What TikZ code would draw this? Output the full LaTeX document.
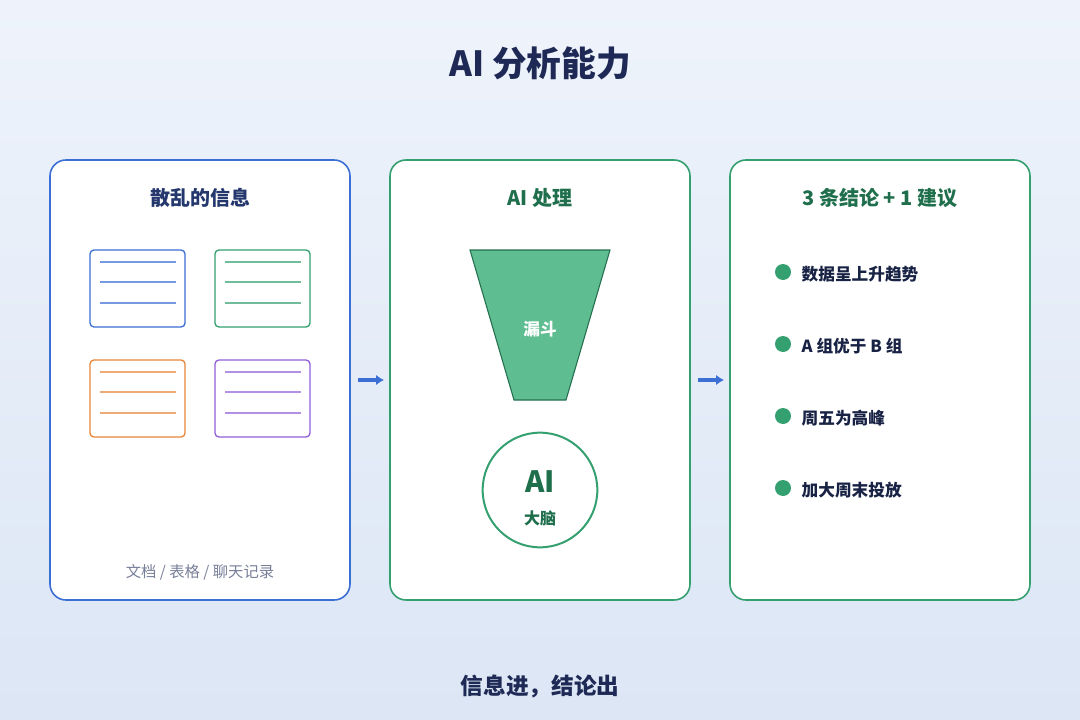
\documentclass[tikz,border=0pt]{standalone}
\usepackage{fontspec}
\setmainfont{Noto Sans CJK SC}
\usetikzlibrary{arrows.meta,positioning}
\definecolor{navy}{HTML}{1E2A55}
\definecolor{cblue}{HTML}{3B6FD4}
\definecolor{cgreen}{HTML}{34A070}
\definecolor{corange}{HTML}{E8873A}
\definecolor{cpurple}{HTML}{9160D8}
\definecolor{dgreen}{HTML}{1F6E4C}
\definecolor{fgreen}{HTML}{5FBD92}
\tikzset{
  panel/.style={draw=#1, line width=1.2pt, fill=white, rounded corners=12pt},
  doc/.style={draw=#1, line width=1pt, fill=white, rounded corners=3pt},
  docline/.style={draw=#1!70, line width=1pt},
  ttl/.style={font=\bfseries\fontsize{15}{18}\selectfont},
  item/.style={font=\bfseries\fontsize{12.5}{15}\selectfont, text=navy!80!black, anchor=west},
  bullet/.style={circle, fill=cgreen, inner sep=0pt, minimum size=12pt},
  flow/.style={-{Latex[length=6pt,width=8pt]}, line width=3pt, draw=cblue}
}
\begin{document}
\begin{tikzpicture}[x=0.75pt,y=-0.75pt]
  % background
  \shade[top color={rgb,255:red,238;green,243;blue,251}, bottom color={rgb,255:red,220;green,230;blue,245}] (0,0) rectangle (1080,720);
  \useasboundingbox (0,0) rectangle (1080,720);
  \node[font=\bfseries\fontsize{26}{30}\selectfont, text=navy] (title) at (540,63) {AI 分析能力};
  % panels
  \draw[panel=cblue] (50,160) rectangle (350,600);
  \draw[panel=cgreen] (390,160) rectangle (690,600);
  \draw[panel=cgreen] (730,160) rectangle (1030,600);
  \node[ttl, text=navy!80!cblue] (t1) at (200,198) {散乱的信息};
  \node[ttl, text=dgreen] (t2) at (540,198) {AI 处理};
  \node[ttl, text=dgreen] (t3) at (880,198) {3 条结论 + 1 建议};
  % documents
  \foreach \x/\y/\c in {90/250/cblue, 215/250/cgreen, 90/360/corange, 215/360/cpurple} {
    \draw[doc=\c] (\x,\y) rectangle ++(95,77);
    \foreach \d in {12,32,53}
      \draw[docline=\c] (\x+10,\y+\d) -- ++(76,0);
  }
  \node[font=\fontsize{11.5}{14}\selectfont, text=navy!60] (src) at (200,572) {文档 / 表格 / 聊天记录};
  % funnel and brain
  \draw[fill=fgreen, draw=cgreen!70!black, line width=0.8pt] (470,250) -- (610,250) -- (566,400) -- (514,400) -- cycle;
  \node[font=\bfseries\fontsize{12.5}{15}\selectfont, text=white] (fun) at (540,329) {漏斗};
  \node[circle, draw=cgreen, line width=1.5pt, fill=white, minimum size=114\pgflinewidth, minimum size=86pt] (brain) at (540,490) {};
  \node[font=\bfseries\fontsize{22}{24}\selectfont, text=dgreen] (ai) at (540,482) {AI};
  \node[font=\bfseries\fontsize{12}{14}\selectfont, text=dgreen] (nao) at (540,518) {大脑};
  % conclusions
  \foreach \y/\t in {272/数据呈上升趋势, 344/A 组优于 B 组, 416/周五为高峰, 488/加大周末投放} {
    \node[bullet] at (783,\y) {};
    \node[item] at (797,\y+2) {\t};
  }
  % arrows
  \coordinate (a1s) at (358,380); \coordinate (a1e) at (384,380);
  \coordinate (a2s) at (698,380); \coordinate (a2e) at (724,380);
  \draw[flow] (a1s) -- (a1e);
  \draw[flow] (a2s) -- (a2e);
  \node[font=\bfseries\fontsize{17}{20}\selectfont, text=navy] (foot) at (540,686) {信息进，结论出};
\end{tikzpicture}
\end{document}
